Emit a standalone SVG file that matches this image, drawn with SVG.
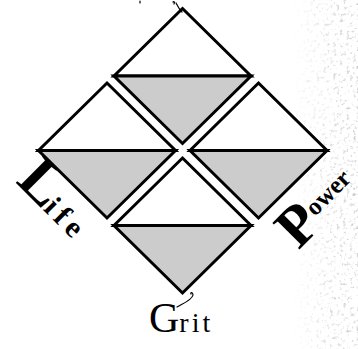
<svg xmlns="http://www.w3.org/2000/svg" width="358" height="349" viewBox="0 0 358 349">
<defs>
<style>
.tri-top{fill:#ffffff;stroke:#000;stroke-width:3;stroke-linejoin:miter}
.tri-bot{fill:#cccccc;stroke:#000;stroke-width:3;stroke-linejoin:miter}
.lbl{font-family:"Liberation Serif","DejaVu Serif",serif;fill:#000}
.flo{fill:none;stroke:#000;stroke-width:1.2;stroke-linecap:round}
</style>
<linearGradient id="edge" x1="0" y1="0" x2="1" y2="0">
<stop offset="0" stop-color="#fff" stop-opacity="0"/>
<stop offset="0.6" stop-color="#fff" stop-opacity="0.6"/>
<stop offset="1" stop-color="#fff" stop-opacity="0.9"/>
</linearGradient>
<mask id="edgeMask">
<rect x="292" y="0" width="66" height="349" fill="url(#edge)"/>
</mask>
<filter id="speck" x="0" y="0" width="100%" height="100%">
<feTurbulence type="fractalNoise" baseFrequency="0.3" numOctaves="3" seed="4" result="n"/>
<feColorMatrix type="matrix" values="0 0 0 0 0.55  0 0 0 0 0.55  0 0 0 0 0.55  -4 0 0 0 1.75"/>
</filter>
<g id="diamond">
<path class="tri-top" d="M0,-67.5 L68.5,0 L-68.5,0 Z"/>
<path class="tri-bot" d="M-68.5,0 L68.5,0 L0,67.5 Z"/>
</g>
</defs>
<rect width="358" height="349" fill="#fff"/>
<g id="texture" mask="url(#edgeMask)">
<rect x="292" y="0" width="66" height="349" fill="#fff" filter="url(#speck)"/>
</g>
<g id="node-top"><use href="#diamond" x="182.5" y="76"/></g>
<g id="node-left"><use href="#diamond" x="107" y="150.5"/></g>
<g id="node-right"><use href="#diamond" x="258.5" y="150.5"/></g>
<g id="node-bottom"><use href="#diamond" x="182.5" y="225.5"/></g>
<g id="connectors"></g>
<g id="labels">
<text class="lbl" font-weight="bold" transform="translate(15,182) rotate(45)"><tspan font-size="60">L</tspan><tspan font-size="30" dx="-1" letter-spacing="5">ife</tspan></text>
<text class="lbl" font-weight="bold" transform="translate(290,242) rotate(-45)"><tspan font-size="58" dy="12">P</tspan><tspan font-size="25" dy="-12">ower</tspan></text>
<text class="lbl" x="149" y="332"><tspan font-size="42">G</tspan><tspan font-size="28" letter-spacing="3">rit</tspan></text>
</g>
<g id="flourishes">
<path class="flo" d="M176,3 C178,7 180,10 182,12"/>
<path class="flo" d="M173,2 C174,1 175,2 174,4"/>
<path class="flo" d="M140,1 L140,3"/>
<path class="flo" d="M177,307 C184,303 192,300 193,295 C193,292 190,292 191,294"/>
</g>
</svg>
